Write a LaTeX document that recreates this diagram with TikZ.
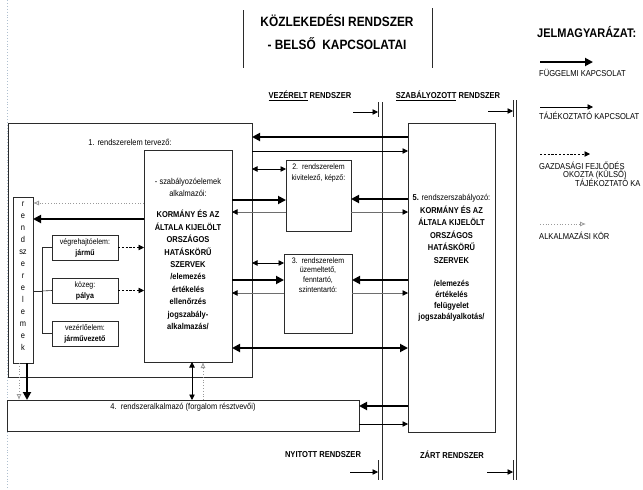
\documentclass[tikz,border=0pt]{standalone}
\usepackage{fontspec}
\setmainfont{Liberation Sans}[FakeStretch=0.88]
\usetikzlibrary{arrows.meta,calc}

\definecolor{frame}{HTML}{2B2B2B}
\definecolor{infoline}{HTML}{6E6E6E}
\definecolor{applyline}{HTML}{9A9A9A}
\definecolor{guideline}{HTML}{AFC0D0}

\tikzset{
  box/.style={draw=frame, line width=0.8pt, inner sep=0pt, outer sep=0pt, anchor=north west},
  txt/.style={inner sep=0pt, font=\fontsize{8.5}{11}\selectfont},
  hdr/.style={inner sep=0pt, font=\bfseries\fontsize{8.6}{10}\selectfont},
  legendtxt/.style={inner sep=0pt, anchor=west, font=\fontsize{8.6}{9}\selectfont},
  bigtip/.tip={Triangle[length=8pt,width=8pt]},
  smalltip/.tip={Triangle[length=5.5pt,width=5.5pt]},
  order/.style={line width=1.8pt, -bigtip},
  orderboth/.style={line width=1.8pt, bigtip-bigtip},
  inform/.style={line width=0.8pt, -smalltip},
  informboth/.style={line width=0.8pt, smalltip-smalltip},
  informgray/.style={draw=infoline, line width=0.8pt, -{Triangle[length=5.5pt,width=5.5pt,color=black]}},
  economy/.style={line width=0.7pt, dash pattern=on 2.2pt off 1.6pt, -smalltip},
  applies/.style={draw=applyline, line width=0.8pt, dotted, -{Latex[open,length=6pt,width=5pt]}},
  divider/.style={draw=frame, line width=0.7pt},
  guide/.style={draw=guideline, line width=0.9pt, dotted},
  tree/.style={draw=frame, line width=0.6pt},
}

\begin{document}
\begin{tikzpicture}[x=1pt,y=-1pt]
\useasboundingbox (0,0) rectangle (643,490);

% left guide line
\draw[guide] (7,0) -- (7,490);

% title
\draw[divider] (243,10) -- (243,68);
\draw[divider] (432,8) -- (432,68);
\node[inner sep=0pt, align=center, font=\bfseries\fontsize{13.5}{23}\selectfont] (title) at (337,32)
  {KÖZLEKEDÉSI RENDSZER\\- BELSŐ \ KAPCSOLATAI};

% legend
\node[inner sep=0pt, anchor=west, font=\bfseries\fontsize{12.5}{14}\selectfont] (legend) at (537,32) {JELMAGYARÁZAT:};
\coordinate (la1) at (540,62);  \coordinate (lb1) at (593,62);
\draw[order] (la1) -- (lb1);
\node[legendtxt] (lt1) at (539,73) {FÜGGELMI KAPCSOLAT};
\coordinate (la2) at (540,107); \coordinate (lb2) at (593,107);
\draw[inform] (la2) -- (lb2);
\node[legendtxt] (lt2) at (539,116) {TÁJÉKOZTATÓ KAPCSOLAT};
\coordinate (la3) at (540,154); \coordinate (lb3) at (590,154);
\draw[economy] (la3) -- (lb3);
\node[legendtxt] (lt3a) at (539,166) {GAZDASÁGI FEJLŐDÉS};
\node[legendtxt] (lt3b) at (563,175) {OKOZTA (KÜLSŐ)};
\node[legendtxt] (lt3c) at (575,183) {TÁJÉKOZTATÓ KA};
\coordinate (la4) at (540,224); \coordinate (lb4) at (586,224);
\draw[applies] (la4) -- (lb4);
\node[legendtxt] (lt4) at (539,236) {ALKALMAZÁSI KÖR};

% system boundaries
\node[hdr] (vez) at (310,96) {\underline{VEZÉRELT} RENDSZER};
\node[hdr] (szab) at (448,96) {\underline{SZABÁLYOZOTT} RENDSZER};
\node[hdr] (nyit) at (323,455) {NYITOTT RENDSZER};
\node[hdr] (zart) at (452,455) {ZÁRT RENDSZER};

\coordinate (bl1) at (378,112); \coordinate (bl2) at (378,472);
\coordinate (br1) at (513,111); \coordinate (br2) at (513,472);
\draw[inform] ($(bl1)+(-25,0)$) -- (bl1);
\draw[inform] ($(bl2)+(-28,0)$) -- (bl2);
\draw[inform] ($(br1)+(-25,0)$) -- (br1);
\draw[inform] ($(br2)+(-26,0)$) -- (br2);
\draw[divider] (378,102) -- (378,117);
\draw[divider] (378,460) -- (378,480);
\draw[divider] (382,102) -- (382,480);
\draw[divider] (513,100) -- (513,117);
\draw[divider] (513,460) -- (513,480);
\draw[divider] (516,100) -- (516,480);

% 1. rendszerelem tervező
\node[box, minimum width=244pt, minimum height=254pt] (S1) at (8,123) {};
\node[txt] (S1t) at (130,142) {1. rendszerelem tervező:};

\node[box, minimum width=88pt, minimum height=212pt] (K) at (144,150) {};
\node[txt, align=center, anchor=north, font=\fontsize{8.5}{12.4}\selectfont] (Kt) at (188,178)
  {- szabályozóelemek\\alkalmazói:\\[8.7pt]
   \textbf{KORMÁNY ÉS AZ}\\\textbf{ÁLTALA KIJELÖLT}\\\textbf{ORSZÁGOS}\\\textbf{HATÁSKÖRŰ}\\\textbf{SZERVEK}\\
   \textbf{/elemezés}\\\textbf{értékelés}\\\textbf{ellenőrzés}\\\textbf{jogszabály-}\\\textbf{alkalmazás/}};

\node[box, minimum width=20pt, minimum height=166pt] (R) at (13,197) {};
\node[txt, align=center, anchor=north, font=\fontsize{8.5}{12}\selectfont] (Rt) at (23,201.8)
  {r\\e\\n\\d\\sz\\e\\r\\e\\l\\e\\m\\e\\k};

\node[box, minimum width=66pt, minimum height=25pt] (V1) at (52,235) {};
\node[txt, align=center, font=\fontsize{8}{11}\selectfont] (V1t) at (V1.center) {végrehajtóelem:\\\textbf{jármű}};
\node[box, minimum width=66pt, minimum height=25pt] (V2) at (52,278) {};
\node[txt, align=center, font=\fontsize{8}{11}\selectfont] (V2t) at (V2.center) {közeg:\\\textbf{pálya}};
\node[box, minimum width=66pt, minimum height=25pt] (V3) at (52,321) {};
\node[txt, align=center, font=\fontsize{8}{11}\selectfont] (V3t) at (V3.center) {vezérlőelem:\\\textbf{járművezető}};

% element tree
\coordinate (J) at (42,291);
\draw[tree] (R.east |- J) -- (J);
\draw[tree] (J |- V1.west) -- (J |- V3.west);
\draw[tree] (J |- V1.west) -- (V1.west);
\draw[tree] (J) -- (V2.west);
\draw[tree] (J |- V3.west) -- (V3.west);

\draw[economy] (V1.east) -- (K.west |- V1.east);
\draw[economy] (V2.east) -- (K.west |- V2.east);
\draw[economy, draw=none, -{Triangle[length=6pt,width=6pt,fill=black]}, shorten <=20pt] (V3.east |- 0,331) -- (K.west |- 0,331);

\draw[applies] (K.west |- 0,203) -- (R.east |- 0,203);
\draw[order] (K.west |- 0,219) -- (R.east |- 0,219);

% 2. and 3. rendszerelem
\node[box, minimum width=65pt, minimum height=71pt] (B2) at (286,160) {};
\node[txt, align=center, anchor=north, font=\fontsize{8}{11}\selectfont] (B2t) at (B2.north |- 0,164)
  {2.\ \ rendszerelem\\kivitelező, képző:};
\node[box, minimum width=68pt, minimum height=79pt] (B3) at (284,254) {};
\node[txt, align=center, anchor=north, font=\fontsize{8}{9.8}\selectfont] (B3t) at (B3.north |- 0,257)
  {3.\ \ rendszerelem\\üzemeltető,\\fenntartó,\\szintentartó:};

% 5. rendszerszabályozó
\node[box, minimum width=87pt, minimum height=309pt] (B5) at (408,123) {};
\node[txt, align=center, anchor=north, font=\fontsize{8.5}{12.6}\selectfont] (B5t) at (B5.north |- 0,194)
  {\textbf{5.} rendszerszabályozó:\\
   \textbf{KORMÁNY ÉS AZ}\\\textbf{ÁLTALA KIJELÖLT}\\\textbf{ORSZÁGOS}\\\textbf{HATÁSKÖRŰ}\\\textbf{SZERVEK}\\[10.9pt]
   \textbf{/elemezés}\\[-1.6pt]\textbf{értékelés}\\[-1.6pt]\textbf{felügyelet}\\[-1.6pt]\textbf{jogszabályalkotás/}};

% 4. rendszeralkalmazó
\node[box, minimum width=352pt, minimum height=31pt] (S4) at (7,400) {};
\node[txt] (S4t) at (183,407) {4.\ \ rendszeralkalmazó (forgalom résztvevői)};

% links between the planning frame and the regulator
\draw[order] (B5.west |- 0,137) -- (S1.east |- 0,137);
\draw[inform] (S1.east |- 0,151) -- (B5.west |- 0,151);
\draw[informboth] (S1.east |- 0,169) -- (B2.west |- 0,169);
\draw[order] (K.east |- 0,200) -- (B2.west |- 0,200);
\draw[informgray] (B2.west |- 0,212) -- (K.east |- 0,212);
\draw[order] (B5.west |- 0,199) -- (B2.east |- 0,199);
\draw[informgray] (B2.east |- 0,212) -- (B5.west |- 0,212);
\draw[informboth] (S1.east |- 0,263) -- (B3.west |- 0,263);
\draw[order] (K.east |- 0,280) -- (B3.west |- 0,280);
\draw[informgray] (B3.west |- 0,293) -- (K.east |- 0,293);
\draw[order] (B5.west |- 0,280) -- (B3.east |- 0,280);
\draw[informgray] (B3.east |- 0,293) -- (B5.west |- 0,293);
\draw[orderboth] (K.east |- 0,348) -- (B5.west |- 0,348);
\draw[order] (B5.west |- 0,406) -- (S4.east |- 0,406);
\draw[inform] (S4.east |- 0,424) -- (B5.west |- 0,424);

% vertical links to the users
\draw[order] (R.south -| 27,0) -- (S4.north -| 27,0);
\draw[applies] (R.south -| 19,0) -- (S4.north -| 19,0);
\draw[informboth] (K.south -| 192,0) -- (S4.north -| 192,0);
\draw[applies] (S4.north -| 203,0) -- (K.south -| 203,0);

\end{tikzpicture}
\end{document}
